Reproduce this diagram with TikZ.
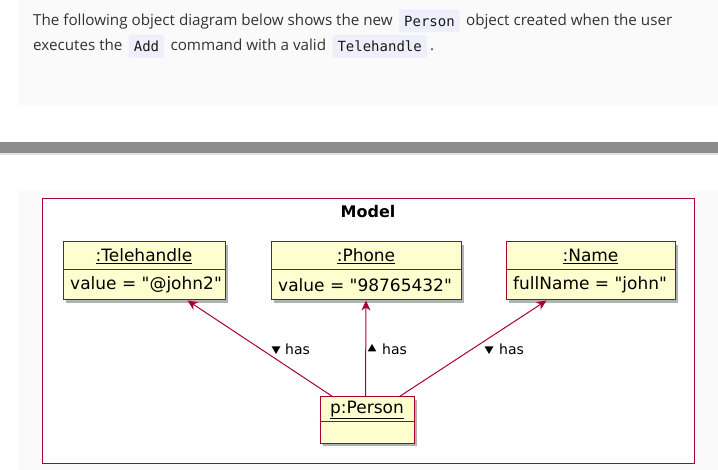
\documentclass[tikz,border=0pt]{standalone}
\usepackage{fontspec}
\setmainfont{Open Sans}
\newfontfamily\diafont{DejaVu Sans}
\newfontfamily\codefont{DejaVu Sans Mono}
\usetikzlibrary{shapes.geometric,shadows,calc,arrows.meta}
\definecolor{umlred}{HTML}{A80036}
\definecolor{umlfill}{HTML}{FEFECE}
\definecolor{panel}{HTML}{FAFAFA}
\definecolor{codebg}{HTML}{EEEFFA}
\definecolor{bodytext}{HTML}{333333}
\tikzset{
  bodytxt/.style={anchor=base west, inner sep=0pt, text=bodytext, font=\fontsize{15.2}{18}\selectfont},
  codebox/.style={anchor=west, fill=codebg, rounded corners=2pt, inner xsep=5pt, inner ysep=0pt, minimum height=23pt, text=black!90, font=\codefont\fontsize{14}{16}\selectfont},
  objbox/.style={draw=umlred, fill=umlfill, line width=1pt, inner sep=0pt,
     drop shadow={shadow xshift=3pt, shadow yshift=-3pt, fill=black, opacity=0.3}},
  sepline/.style={draw=umlred, line width=1pt},
  objtitle/.style={inner sep=0pt, font=\diafont\fontsize{17}{20}\selectfont},
  objattr/.style={inner sep=0pt, anchor=west, font=\diafont\fontsize{17}{20}\selectfont},
  assoc/.style={draw=umlred, line width=1pt, -{Stealth[length=10pt,width=9pt,inset=3pt]}},
  haslbl/.style={inner sep=0pt, anchor=west, font=\diafont\fontsize{14}{16}\selectfont},
  dirtri/.style={fill=black, isosceles triangle, isosceles triangle apex angle=60, inner sep=0pt, minimum height=7.5pt},
}
\begin{document}
\begin{tikzpicture}[x=1pt,y=-1pt]
\useasboundingbox (0,0) rectangle (718,470);
% backgrounds
\fill[white] (0,0) rectangle (718,470);
\fill[panel] (19,0) rectangle (718,105);
\fill[black!2] (19,190) rectangle (718,470);
\fill[black!45] (0,142) rectangle (718,153);
\fill[black!12] (0,153) rectangle (718,155.5);

% text
\node[bodytxt] (t1) at (33,25.5) {The following object diagram below shows the new};
\node[codebox] (c1) at ($(t1.base east)+(6,-4.5)$) {Person};
\node[bodytxt] (t2) at ($(c1.east)+(6,4.5)$) {object created when the user};
\node[bodytxt] (t3) at (33,51) {executes the};
\node[codebox] (c2) at ($(t3.base east)+(6,-4.5)$) {Add};
\node[bodytxt] (t4) at ($(c2.east)+(6,4.5)$) {command with a valid};
\node[codebox] (c3) at ($(t4.base east)+(6,-4.5)$) {Telehandle};
\node[bodytxt] (t5) at ($(c3.east)+(3,4.5)$) {.};

% frame
\node[draw=umlred, line width=1pt, fill=white, minimum width=652pt, minimum height=264pt, inner sep=0pt] (frame) at (368,331) {};
\node[inner sep=0pt, font=\diafont\bfseries\fontsize{16}{19}\selectfont] (model) at (368,212) {Model};

% objects
\node[objbox, minimum width=162pt, minimum height=58pt] (tele) at (144,271) {};
\draw[sepline] (tele.west |- 0,270) -- (tele.east |- 0,270);
\node[objtitle] (teleT) at (144,256) {\underline{:Telehandle}};
\node[objattr] (teleA) at (70,285) {value = "@john2"};

\node[objbox, minimum width=190pt, minimum height=58pt] (phone) at (366,271) {};
\draw[sepline] (phone.west |- 0,270) -- (phone.east |- 0,270);
\node[objtitle] (phoneT) at (366,256) {\underline{:Phone}};
\node[objattr] (phoneA) at (278,285) {value = "98765432"};

\node[objbox, minimum width=169pt, minimum height=58pt] (name) at (590.5,271) {};
\draw[sepline] (name.west |- 0,270) -- (name.east |- 0,270);
\node[objtitle] (nameT) at (590.5,256) {\underline{:Name}};
\node[objattr] (nameA) at (513,285) {fullName = "john"};

\node[objbox, minimum width=94pt, minimum height=46pt] (person) at (367,420) {};
\draw[sepline] (person.west |- 0,422) -- (person.east |- 0,422);
\node[objtitle] (personT) at (367,410) {\underline{p:Person}};

% connectors
\coordinate (pa) at ($(person.north west)+(13,0)$);
\coordinate (pb) at ($(person.north west)+(46,0)$);
\coordinate (pc) at ($(person.north west)+(80,0)$);
\coordinate (ta) at ($(tele.south west)+(125,0)$);
\coordinate (tb) at ($(name.south west)+(41,0)$);
\draw[assoc] (pa) -- (ta);
\draw[assoc] (pb) -- (phone.south);
\draw[assoc] (pc) -- (tb);

% labels
\node[dirtri, shape border rotate=-55] (d1) at (276,349) {};
\node[haslbl] (h1) at (285,349) {has};
\node[dirtri, shape border rotate=90] (d2) at (372,349) {};
\node[haslbl] (h2) at (382,349) {has};
\node[dirtri, shape border rotate=-125] (d3) at (489,349) {};
\node[haslbl] (h3) at (499,349) {has};
\end{tikzpicture}
\end{document}
